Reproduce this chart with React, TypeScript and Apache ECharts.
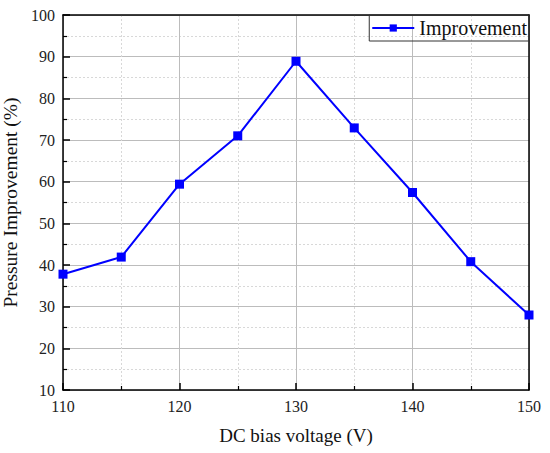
import React, { useEffect, useRef } from "react";
import * as echarts from "echarts";

const voltages = [110, 115, 120, 125, 130, 135, 140, 145, 150];
const improvement = [37.8, 41.9, 59.4, 71, 88.9, 72.9, 57.4, 40.8, 28];
const seriesName = "Improvement";
const xTitle = "DC bias voltage (V)";
const yTitle = "Pressure Improvement (%)";

const FONT = "'Liberation Serif', 'Times New Roman', serif";

export default function App() {
  const ref = useRef<HTMLDivElement>(null);
  useEffect(() => {
    if (!ref.current) return;
    const chart = echarts.init(ref.current, undefined, { renderer: "svg" });
    const frameAxis = {
      show: true,
      axisLine: { show: true, lineStyle: { color: "#000", width: 1.5 } },
      axisTick: { show: false },
      axisLabel: { show: false },
      splitLine: { show: false },
    };
    chart.setOption({
      animation: false,
      backgroundColor: "#fff",
      grid: { left: 63, right: 21, top: 15, bottom: 63, outerBoundsMode: "none" },
      legend: {
        data: [seriesName],
        right: 21,
        top: 15,
        orient: "horizontal",
        borderColor: "#333",
        borderWidth: 1,
        borderRadius: 0,
        padding: [3, 2, 3, 2],
        itemWidth: 42,
        itemHeight: 9,
        itemGap: 4,
        textStyle: { fontFamily: FONT, fontSize: 20, color: "#111" },
      },
      xAxis: [
        {
          type: "value",
          min: 110,
          max: 150,
          interval: 10,
          name: xTitle,
          nameLocation: "middle",
          nameGap: 36,
          nameTextStyle: { fontFamily: FONT, fontSize: 19, color: "#111" },
          axisLine: { show: true, lineStyle: { color: "#000", width: 1.5 } },
          axisTick: { show: true, inside: true, length: 7, lineStyle: { color: "#000", width: 1.5 } },
          minorTick: { show: true, splitNumber: 2, length: 4, lineStyle: { color: "#000", width: 1.2 } },
          axisLabel: { fontFamily: FONT, fontSize: 16, color: "#222", margin: 8 },
          splitLine: { show: true, lineStyle: { color: "#bcbcbc", width: 1 } },
          minorSplitLine: { show: true, lineStyle: { color: "#d8d8d8", width: 1, type: [2, 2] } },
        },
        { ...frameAxis, type: "value", position: "top", min: 110, max: 150 },
      ],
      yAxis: [
        {
          type: "value",
          min: 10,
          max: 100,
          interval: 10,
          name: yTitle,
          nameLocation: "middle",
          nameGap: 37,
          nameTextStyle: { fontFamily: FONT, fontSize: 19.5, color: "#111" },
          axisLine: { show: true, lineStyle: { color: "#000", width: 1.5 } },
          axisTick: { show: true, inside: true, length: 7, lineStyle: { color: "#000", width: 1.5 } },
          minorTick: { show: true, splitNumber: 2, length: 4, lineStyle: { color: "#000", width: 1.2 } },
          axisLabel: { fontFamily: FONT, fontSize: 16, color: "#222", margin: 8 },
          splitLine: { show: true, lineStyle: { color: "#bcbcbc", width: 1 } },
          minorSplitLine: { show: true, lineStyle: { color: "#d8d8d8", width: 1, type: [2, 2] } },
        },
        { ...frameAxis, type: "value", position: "right", min: 10, max: 100 },
      ],
      series: [
        {
          name: seriesName,
          type: "line",
          data: voltages.map((v, i) => [v, improvement[i]]),
          symbol: "rect",
          symbolSize: 9,
          lineStyle: { color: "#0000ff", width: 2 },
          itemStyle: { color: "#0000ff" },
          clip: true,
        },
      ],
    });
    return () => chart.dispose();
  }, []);
  return <div ref={ref} style={{ width: 550, height: 453, position: "absolute", left: 0, top: 0 }} />;
}
